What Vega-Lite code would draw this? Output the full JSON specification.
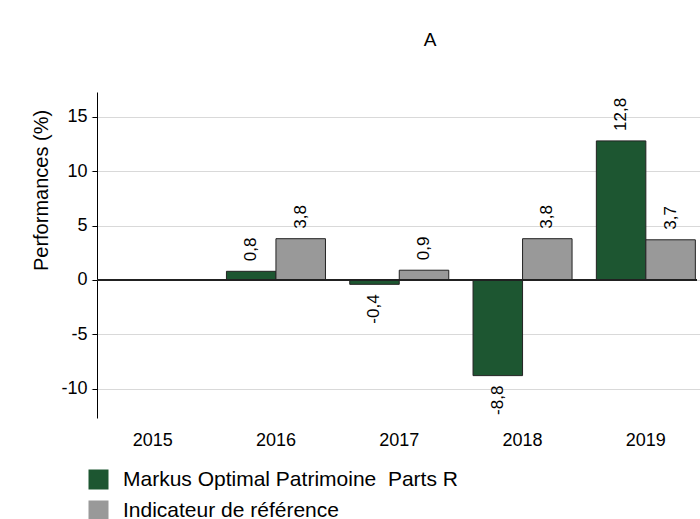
{
  "$schema": "https://vega.github.io/schema/vega-lite/v6.json",
  "autosize": "none",
  "width": 600,
  "height": 326,
  "padding": {"left": 97, "top": 92, "right": 3, "bottom": 101},
  "background": "white",
  "config": {
    "font": "Liberation Sans",
    "view": {"stroke": null}
  },
  "title": {
    "text": "A",
    "fontSize": 19,
    "fontWeight": "normal",
    "color": "#000",
    "anchor": "middle",
    "dx": 33,
    "offset": 42
  },
  "data": {
    "values": [
      {"year": "2016", "series": "Markus Optimal Patrimoine  Parts R", "value": 0.8, "label": "0,8"},
      {"year": "2016", "series": "Indicateur de référence", "value": 3.8, "label": "3,8"},
      {"year": "2017", "series": "Markus Optimal Patrimoine  Parts R", "value": -0.4, "label": "-0,4"},
      {"year": "2017", "series": "Indicateur de référence", "value": 0.9, "label": "0,9"},
      {"year": "2018", "series": "Markus Optimal Patrimoine  Parts R", "value": -8.8, "label": "-8,8"},
      {"year": "2018", "series": "Indicateur de référence", "value": 3.8, "label": "3,8"},
      {"year": "2019", "series": "Markus Optimal Patrimoine  Parts R", "value": 12.8, "label": "12,8"},
      {"year": "2019", "series": "Indicateur de référence", "value": 3.7, "label": "3,7"}
    ]
  },
  "encoding": {
    "x": {
      "field": "year",
      "type": "nominal",
      "scale": {"domain": ["2015", "2016", "2017", "2018", "2019"], "range": [-6, 610.5], "paddingInner": 0.197, "paddingOuter": 0.0985},
      "axis": {"title": null, "labelAngle": 0, "domain": false, "ticks": false, "labelFontSize": 18, "labelPadding": 13, "labelColor": "#000", "grid": false}
    },
    "xOffset": {"field": "series", "type": "nominal", "sort": ["Markus Optimal Patrimoine  Parts R", "Indicateur de référence"]},
    "y": {
      "field": "value",
      "type": "quantitative",
      "scale": {"domain": [-12.7, 17.3], "nice": false, "zero": false},
      "axis": {
        "title": "Performances (%)",
        "titleFontSize": 20,
        "titleFontWeight": "normal",
        "titleColor": "#000",
        "titlePadding": 9,
        "titleY": 98,
        "values": [-10, -5, 0, 5, 10, 15],
        "labelExpr": "replace(datum.label, '−', '-')",
        "labelFontSize": 18,
        "labelColor": "#000",
        "labelPadding": 5,
        "tickColor": "#000",
        "tickSize": 5,
        "domainColor": "#000",
        "gridColor": "#d9d9d9",
        "grid": true
      }
    }
  },
  "layer": [
    {
      "mark": {"type": "bar", "stroke": "#222", "strokeWidth": 1},
      "encoding": {
        "color": {
          "field": "series",
          "type": "nominal",
          "sort": ["Markus Optimal Patrimoine  Parts R", "Indicateur de référence"],
          "scale": {"domain": ["Markus Optimal Patrimoine  Parts R", "Indicateur de référence"], "range": ["#1d5631", "#999999"]},
          "legend": {
            "title": null,
            "orient": "none",
            "legendX": -9,
            "legendY": 377,
            "symbolType": "square",
            "symbolSize": 400,
            "symbolStrokeWidth": 0,
            "labelFontSize": 21,
            "labelColor": "#000",
            "labelOffset": 14,
            "labelLimit": 0,
            "rowPadding": 9,
            "labelExpr": "replace(datum.label, 'Patrimoine ', 'Patrimoine\u00a0 ')"
          }
        }
      }
    },
    {
      "mark": {"type": "rule", "color": "#222", "strokeWidth": 1},
      "encoding": {"y": {"datum": 0, "type": "quantitative"}, "x": {"value": 0}, "x2": {"value": 600}, "xOffset": null}
    },
    {
      "transform": [{"filter": "datum.value >= 0"}],
      "mark": {"type": "text", "angle": 270, "align": "left", "baseline": "middle", "dx": 10, "fontSize": 17, "color": "#000"},
      "encoding": {"text": {"field": "label"}}
    },
    {
      "transform": [{"filter": "datum.value < 0"}],
      "mark": {"type": "text", "angle": 270, "align": "right", "baseline": "middle", "dx": -10, "fontSize": 17, "color": "#000"},
      "encoding": {"text": {"field": "label"}}
    }
  ]
}
